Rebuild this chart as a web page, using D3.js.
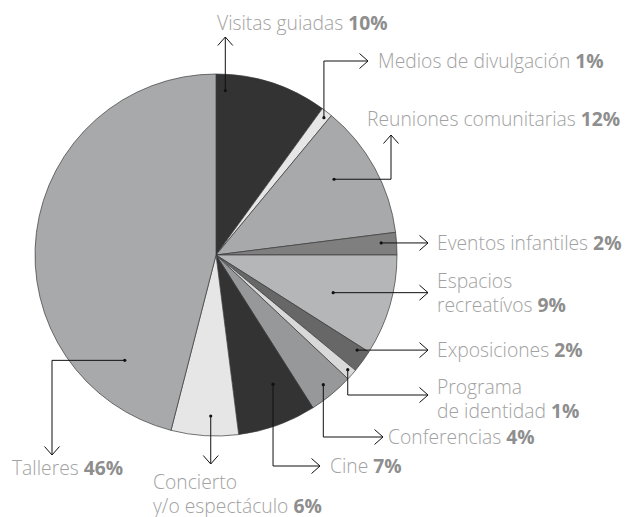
<!DOCTYPE html>
<html>
<head>
<meta charset="utf-8">
<script src="https://cdn.jsdelivr.net/npm/d3@7"></script>
<style>
  body { margin: 0; background: #fff; }
  .lbl { font-family: "Open Sans", sans-serif; font-size: 19.3px; font-weight: 300; fill: #a2a2a2; }
  .lbl .pct { font-weight: bold; fill: #8e8e8e; }
</style>
</head>
<body>
<svg id="chart" width="632" height="517"></svg>
<script>
// slice data, clockwise from 12 o'clock
const categories = ["Visitas guiadas", "Medios de divulgación", "Reuniones comunitarias",
    "Eventos infantiles", "Espacios recreatívos", "Exposiciones", "Programa de identidad",
    "Conferencias", "Cine", "Concierto y/o espectáculo", "Talleres"];
const values = [10, 1, 12, 2, 9, 2, 1, 4, 7, 6, 46];
const pctLabels = ["10%", "1%", "12%", "2%", "9%", "2%", "1%", "4%", "7%", "6%", "46%"];
// label text lines (last line gets the bold percentage)
const labelLines = [
    ["Visitas guiadas"], ["Medios de divulgación"], ["Reuniones comunitarias"],
    ["Eventos infantiles"], ["Espacios", "recreatívos"], ["Exposiciones"],
    ["Programa", "de identidad"], ["Conferencias"], ["Cine"],
    ["Concierto", "y/o espectáculo"], ["Talleres"]
];
const fills = ["#333333", "#e6e6e6", "#a8a9ab", "#7f7f7f", "#b5b6b8", "#676767",
    "#d9d9d9", "#97989a", "#333333", "#e6e6e6", "#a8a9ab"];

let svg = d3.select("#chart");
let cx = 216, cy = 255, radius = 181;

let pie = d3.pie().sort(null).value(d => d);
let arcs = pie(values);
let arc = d3.arc().innerRadius(0).outerRadius(radius);

let g = svg.append("g").attr("transform", `translate(${cx},${cy})`);
g.selectAll("path")
    .data(arcs)
    .enter()
    .append("path")
    .attr("d", arc)
    .attr("fill", (d, i) => fills[i])
    .attr("stroke", "#3a3a3a")
    .attr("stroke-width", 0.7);

// leader layout: where the dot sits inside the slice (t = position across slice, r = fraction of radius)
// and the route the line takes: v = go vertical to y, h = go horizontal to x
let leaders = [
    { t: 0.09, r: 0.91, route: [["v", 37]], text: [217, 30] },
    { t: 0.6, r: 0.965, route: [["v", 61], ["h", 368]], text: [378, 68] },
    { t: 0.41, r: 0.775, route: [["h", 391], ["v", 135]], text: [367, 126] },
    { t: 0.42, r: 0.915, route: [["h", 428]], text: [437, 250] },
    { t: 0.55, r: 0.68, route: [["h", 428]], text: [437, 288] },
    { t: 0.22, r: 0.94, route: [["h", 428]], text: [437, 357] },
    { t: 0.4, r: 0.965, route: [["v", 395], ["h", 428]], text: [437, 394] },
    { t: 0.5, r: 0.93, route: [["v", 437], ["h", 383]], text: [388, 444] },
    { t: 0.34, r: 0.78, route: [["v", 466], ["h", 320]], text: [330, 473] },
    { t: 0.42, r: 0.89, route: [["v", 464]], text: [153, 489] },
    { t: 0.16, r: 0.77, route: [["h", 52], ["v", 455]], text: [12, 475] }
];

let lineG = svg.append("g");
arcs.forEach((a, i) => {
    let L = leaders[i];
    let ang = a.startAngle + (a.endAngle - a.startAngle) * L.t;
    let x = cx + Math.sin(ang) * radius * L.r;
    let y = cy - Math.cos(ang) * radius * L.r;
    let pts = [[x, y]];
    L.route.forEach(s => {
        if (s[0] === "v") { y = s[1]; } else { x = s[1]; }
        pts.push([x, y]);
    });
    lineG.append("path")
        .attr("d", d3.line()(pts))
        .attr("fill", "none")
        .attr("stroke", "#111")
        .attr("stroke-width", 1);
    lineG.append("circle")
        .attr("cx", pts[0][0]).attr("cy", pts[0][1]).attr("r", 1.6)
        .attr("fill", "#111");
    // open chevron arrow at the tip
    let p1 = pts[pts.length - 2], p2 = pts[pts.length - 1];
    let dx = Math.sign(p2[0] - p1[0]), dy = Math.sign(p2[1] - p1[1]);
    let len = 8.5, wid = 7.5;
    let arrow = [
        [p2[0] - dx * len - dy * wid, p2[1] - dy * len - dx * wid],
        [p2[0], p2[1]],
        [p2[0] - dx * len + dy * wid, p2[1] - dy * len + dx * wid]
    ];
    lineG.append("path")
        .attr("d", d3.line()(arrow))
        .attr("fill", "none")
        .attr("stroke", "#111")
        .attr("stroke-width", 1);

    // label
    let lines = labelLines[i];
    let t = svg.append("text").attr("class", "lbl")
        .attr("x", L.text[0]).attr("y", L.text[1]);
    lines.forEach((ln, j) => {
        let ts = t.append("tspan").attr("x", L.text[0]).attr("dy", j === 0 ? 0 : 23.5);
        ts.append("tspan").text(j === lines.length - 1 ? ln + " " : ln);
        if (j === lines.length - 1) {
            t.append("tspan").attr("class", "pct").text(pctLabels[i]);
        }
    });
});
</script>
</body>
</html>
